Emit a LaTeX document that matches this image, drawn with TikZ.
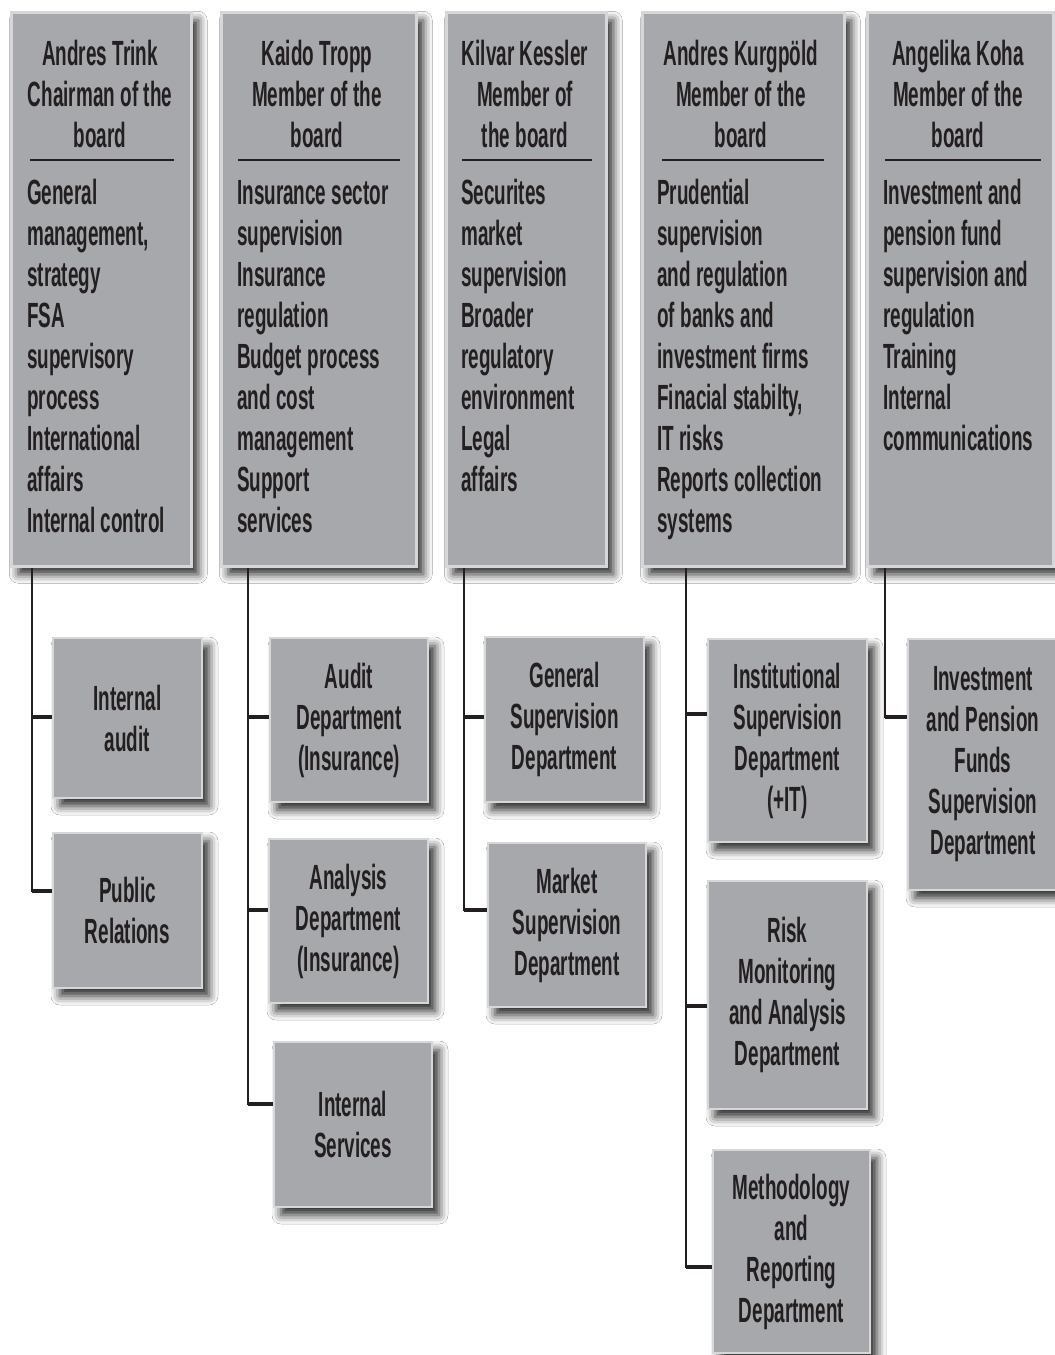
\documentclass[tikz,border=0pt]{standalone}
\usepackage{fontspec}
\setmainfont{Liberation Sans}[UprightFont=* Bold, FakeStretch=0.54, WordSpace=0.54]
\usetikzlibrary{shadows.blur}
\definecolor{boxfill}{RGB}{167,168,171}
\definecolor{boxedge}{RGB}{214,215,217}
\definecolor{ink}{RGB}{35,31,32}
\begin{document}
\begin{tikzpicture}[x=1pt,y=-1pt,
  txt/.style={text=ink, inner sep=0pt, font=\fontsize{35}{41}\selectfont,
    execute at begin node={\spaceskip=0.155em\relax\xspaceskip=0.155em\relax}},
  panel/.style={draw=boxedge, line width=2.5pt, fill=boxfill,
    blur shadow={shadow xshift=7pt, shadow yshift=-8pt, shadow blur radius=9pt, shadow opacity=85}},
  topbox/.style={panel, anchor=north west, inner sep=0pt},
  hdr/.style={txt, anchor=base, text width=220pt, align=center},
  bdy/.style={txt, anchor=base west, text width=260pt, align=left},
  childbox/.style={panel, txt, align=center},
  sepline/.style={draw=ink, line width=1.3pt},
  trunk/.style={draw=ink, line width=2pt},
  branch/.style={draw=ink, line width=3.5pt}]
\fill[white] (0,0) rectangle (1055,1355);
\useasboundingbox (0,0) rectangle (1055,1355);

% ---- board member boxes
\node[topbox, minimum width=180pt, minimum height=554pt] (b1) at (10,11) {};
\node[topbox, minimum width=195pt, minimum height=554pt] (b2) at (220,11) {};
\node[topbox, minimum width=160pt, minimum height=554pt] (b3) at (445,11) {};
\node[topbox, minimum width=202pt, minimum height=554pt] (b4) at (641,11) {};
\node[topbox, minimum width=186pt, minimum height=554pt] (b5) at (866,11) {};

\node[hdr] (h1) at (100,65) {Andres Trink\\Chairman of the\\board};
\node[hdr] (h2) at (317,65) {Kaido Tropp\\Member of the\\board};
\node[hdr] (h3) at (525,65) {Kilvar Kessler\\Member of\\the board};
\node[hdr] (h4) at (741,65) {Andres Kurgpöld\\Member of the\\board};
\node[hdr] (h5) at (958,65) {Angelika Koha\\Member of the\\board};

\draw[sepline] (30,160) -- (174,160);
\draw[sepline] (238,160) -- (400,160);
\draw[sepline] (462,160) -- (592,160);
\draw[sepline] (662,160) -- (824,160);
\draw[sepline] (885,160) -- (1041,160);

\node[bdy] (d1) at (27,204) {General\\management,\\strategy\\FSA\\supervisory\\process\\International\\affairs\\Internal control};
\node[bdy] (d2) at (237,204) {Insurance sector\\supervision\\Insurance\\regulation\\Budget process\\and cost\\management\\Support\\services};
\node[bdy] (d3) at (461,204) {Securites\\market\\supervision\\Broader\\regulatory\\environment\\Legal\\affairs};
\node[bdy] (d4) at (657,204) {Prudential\\supervision\\and regulation\\of banks and\\investment firms\\Finacial stabilty,\\IT risks\\Reports collection\\systems};
\node[bdy] (d5) at (883,204) {Investment and\\pension fund\\supervision and\\regulation\\Training\\Internal\\communications};

% ---- departments
\node[childbox, minimum width=149pt, minimum height=160pt] (c1a) at (127.5,718) {Internal\\audit};
\node[childbox, minimum width=149pt, minimum height=155pt] (c1b) at (127.5,910.5) {Public\\Relations};
\node[childbox, minimum width=158pt, minimum height=164pt] (c2a) at (349,720) {Audit\\Department\\(Insurance)};
\node[childbox, minimum width=159pt, minimum height=164pt] (c2b) at (348.5,921) {Analysis\\Department\\(Insurance)};
\node[childbox, minimum width=158pt, minimum height=165pt] (c2c) at (353,1124.5) {Internal\\Services};
\node[childbox, minimum width=159pt, minimum height=165pt] (c3a) at (564.5,719.5) {General\\Supervision\\Department};
\node[childbox, minimum width=158pt, minimum height=164pt] (c3b) at (567,925) {Market\\Supervision\\Department};
\node[childbox, minimum width=159pt, minimum height=203pt] (c4a) at (787.5,740.5) {Institutional\\Supervision\\Department\\(+IT)};
\node[childbox, minimum width=159pt, minimum height=228pt] (c4b) at (787.5,995) {Risk\\Monitoring\\and Analysis\\Department};
\node[childbox, minimum width=157pt, minimum height=203pt] (c4c) at (791.5,1251.5) {Methodology\\and\\Reporting\\Department};
\node[childbox, minimum width=150pt, minimum height=251pt] (c5) at (983,764.5) {Investment\\and Pension\\Funds\\Supervision\\Department};

% ---- junctions
\coordinate (j1a) at (32,717);  \coordinate (j1b) at (32,891);
\coordinate (j2a) at (248,717); \coordinate (j2b) at (248,910); \coordinate (j2c) at (248,1104);
\coordinate (j3a) at (464,717); \coordinate (j3b) at (464,910);
\coordinate (j4a) at (686,714); \coordinate (j4b) at (686,1006); \coordinate (j4c) at (686,1267);
\coordinate (j5a) at (885,717);

% ---- trunks
\draw[trunk] (b1.south -| j1a) -- ([yshift=-1pt]j1b);
\draw[trunk] (b2.south -| j2a) -- ([yshift=-1pt]j2c);
\draw[trunk] (b3.south -| j3a) -- ([yshift=-1pt]j3b);
\draw[trunk] (b4.south -| j4a) -- ([yshift=-1pt]j4c);
\draw[trunk] (b5.south -| j5a) -- ([yshift=-1pt]j5a);

% ---- branches
\draw[branch] (j1a) -- (j1a -| c1a.west);
\draw[branch] (j1b) -- (j1b -| c1b.west);
\draw[branch] (j2a) -- (j2a -| c2a.west);
\draw[branch] (j2b) -- (j2b -| c2b.west);
\draw[branch] (j2c) -- (j2c -| c2c.west);
\draw[branch] (j3a) -- (j3a -| c3a.west);
\draw[branch] (j3b) -- (j3b -| c3b.west);
\draw[branch] (j4a) -- (j4a -| c4a.west);
\draw[branch] (j4b) -- (j4b -| c4b.west);
\draw[branch] (j4c) -- (j4c -| c4c.west);
\draw[branch] (j5a) -- (j5a -| c5.west);
\end{tikzpicture}
\end{document}
